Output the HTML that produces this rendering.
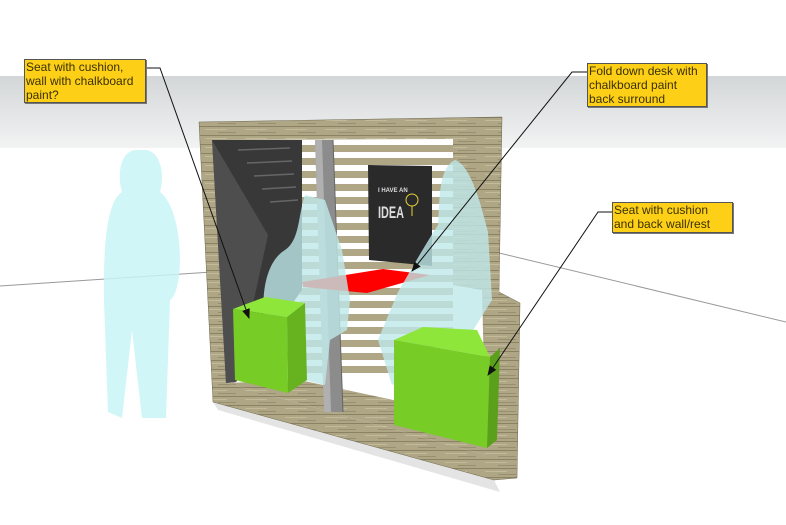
<!DOCTYPE html>
<html><head><meta charset="utf-8"><style>
html,body{margin:0;padding:0;background:#fff;}
body{width:786px;height:525px;position:relative;overflow:hidden;font-family:"Liberation Sans",sans-serif;}
.box{position:absolute;background:#fdd017;border:1px solid #555;box-shadow:1px 1px 0 #777;font-size:12px;line-height:14px;color:#3a3000;padding:0 1px;box-sizing:border-box;white-space:nowrap;}
</style></head><body>
<svg width="786" height="525" style="position:absolute;left:0;top:0">
<defs>
<linearGradient id="sky" x1="0" y1="0" x2="0" y2="1"><stop offset="0" stop-color="#d3d6d8"/><stop offset="1" stop-color="#f2f3f3"/></linearGradient>
<pattern id="wood" width="40" height="9" patternUnits="userSpaceOnUse"><rect width="40" height="9" fill="#aea685"/><rect y="0" width="40" height="1" fill="#8a8262"/><rect x="5" y="3" width="22" height="1" fill="#c2ba98"/><rect x="18" y="6" width="18" height="1" fill="#978f70"/></pattern>
<marker id="ah" markerWidth="10" markerHeight="8" refX="9" refY="4" orient="auto" markerUnits="userSpaceOnUse"><path d="M0,0 L10,4 L0,8 Z" fill="#111"/></marker>
</defs>
<rect x="0" y="76" width="786" height="72" fill="url(#sky)"/>
<line x1="0" y1="286" x2="212" y2="272" stroke="#999" stroke-width="1"/>
<line x1="495" y1="252" x2="786" y2="322" stroke="#999" stroke-width="1"/>
<!-- standing ghost -->
<path d="M135,150 C120,152 117,175 122,192 C108,200 103,240 104,300 L108,412 L122,418 L132,330 L142,418 L166,418 L170,300 C185,290 184,210 160,192 C166,170 158,150 145,150 Z" fill="#c8f4f6" opacity="0.85"/>
<!-- ground shadow -->
<polygon points="213,402 494,480 500,492 218,410" fill="#e4e4e4"/>
<!-- frame -->
<polygon points="199,122 502,117 499,292 520,303 517,478 494,480 213,402" fill="url(#wood)" stroke="#6d6850" stroke-width="0.5"/>
<!-- opening -->
<polygon points="212,140 453,139 453,285 482,290 486,455 226,383" fill="#fff"/>
<polygon points="453,139 453,285 482,290 499,292 500,139" fill="url(#wood)"/>
<!-- slats -->
<g fill="#aea685">
<rect x="300" y="145" width="153" height="7"/><rect x="300" y="158" width="153" height="7"/><rect x="300" y="171" width="153" height="7"/><rect x="300" y="184" width="153" height="7"/><rect x="300" y="197" width="153" height="7"/><rect x="300" y="210" width="153" height="7"/><rect x="300" y="223" width="153" height="7"/><rect x="300" y="236" width="153" height="7"/><rect x="300" y="249" width="153" height="7"/><rect x="300" y="262" width="153" height="7"/><rect x="300" y="275" width="153" height="7"/><rect x="300" y="288" width="153" height="7"/><rect x="300" y="301" width="153" height="7"/><rect x="300" y="314" width="153" height="7"/><rect x="300" y="327" width="153" height="7"/><rect x="300" y="340" width="153" height="7"/><rect x="300" y="353" width="153" height="7"/><rect x="300" y="366" width="153" height="7"/>
</g>
<!-- floor -->
<polygon points="226,383 300,380 486,420 486,455" fill="url(#wood)"/>
<!-- left dark wall -->
<polygon points="212,140 302,140 302,290 236,382 226,383" fill="#383838"/>
<polygon points="212,140 268,235 236,382 226,383" fill="#4e4e4e"/>
<g stroke="#666" stroke-width="1.5"><line x1="238" y1="150" x2="290" y2="148"/><line x1="247" y1="163" x2="292" y2="161"/><line x1="254" y1="176" x2="294" y2="174"/><line x1="262" y1="189" x2="296" y2="187"/><line x1="270" y1="202" x2="298" y2="200"/></g>
<!-- chalkboard -->
<polygon points="368,165 432,166 432,266 369,260" fill="#2a2a2a"/>
<text x="378" y="192" font-size="6" fill="#ddd" font-weight="bold">I HAVE AN</text>
<text x="378" y="218" font-size="17" fill="#ddd" font-weight="bold" transform="scale(1,1)" textLength="26" lengthAdjust="spacingAndGlyphs">IDEA</text>
<circle cx="412" cy="200" r="6" fill="none" stroke="#e6d23a" stroke-width="1"/>
<line x1="412" y1="206" x2="412" y2="216" stroke="#e6d23a"/>
<!-- pole -->
<polygon points="315,140 333,140 343,412 324,412" fill="#8c8c8c"/>
<polygon points="315,140 322,140 331,412 324,412" fill="#b0b0b0"/>
<line x1="333" y1="140" x2="343" y2="412" stroke="#666"/>
<!-- red desk -->
<polygon points="302,282 383,269 430,275 367,293 303,287" fill="#ff0000"/>
<!-- ghosts seated -->
<path d="M305,195 C298,215 300,240 285,250 C265,262 258,300 268,340 L300,345 L305,380 L325,385 L330,340 L347,330 L350,300 L342,250 L325,200 Z" fill="#bfe9ea" opacity="0.8"/>
<path d="M455,160 C438,168 440,200 438,225 C425,245 412,268 398,292 L378,340 L392,385 L418,372 L430,340 L472,332 L492,300 L488,232 C480,200 470,165 455,160 Z" fill="#bfe9ea" opacity="0.8"/>
<!-- green left cube -->
<polygon points="233,309 265,297 305,303 287,317" fill="#8ee63a"/>
<polygon points="233,309 287,317 288,393 235,380" fill="#77cc26"/>
<polygon points="287,317 305,303 307,380 288,393" fill="#66b31f"/>
<!-- green right cube -->
<polygon points="394,340 423,327 477,330 490,357" fill="#8ee63a"/>
<polygon points="394,340 490,357 487,448 394,425" fill="#77cc26"/>
<polygon points="490,357 500,348 497,440 487,448" fill="#5aa01b"/>
<!-- leaders -->
<polyline points="145,68 160,68 249,318" fill="none" stroke="#111" stroke-width="1" marker-end="url(#ah)"/>
<polyline points="587,72 572,72 412,271" fill="none" stroke="#111" stroke-width="1" marker-end="url(#ah)"/>
<polyline points="612,212 598,212 488,375" fill="none" stroke="#111" stroke-width="1" marker-end="url(#ah)"/>
</svg>
<div class="box" style="left:24px;top:59px;width:122px;height:44px">Seat with cushion,<br>wall with chalkboard<br>paint?</div>
<div class="box" style="left:587px;top:63px;width:120px;height:44px">Fold down desk with<br>chalkboard paint<br>back surround</div>
<div class="box" style="left:612px;top:202px;width:121px;height:31px">Seat with cushion<br>and back wall/rest</div>
</body></html>
